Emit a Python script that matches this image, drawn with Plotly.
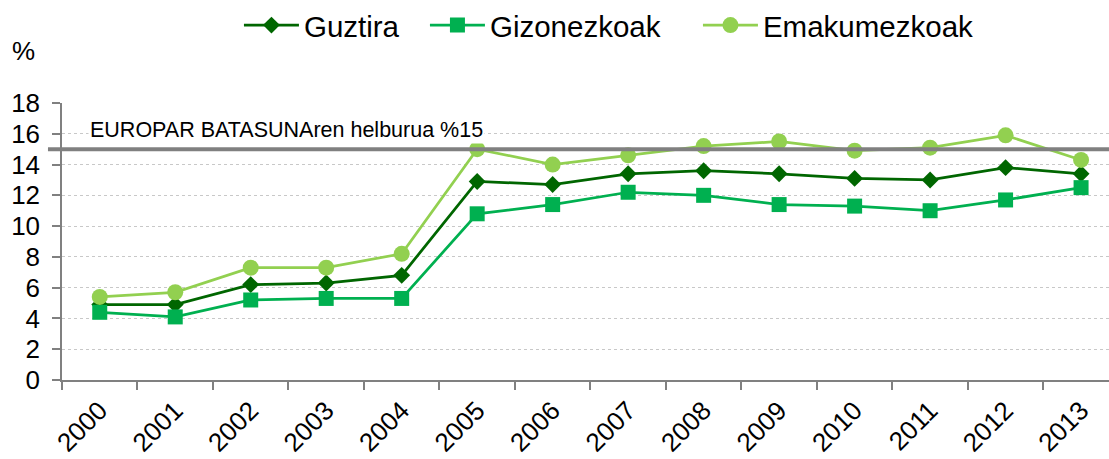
import plotly.graph_objects as go

years = ["2000", "2001", "2002", "2003", "2004", "2005", "2006",
         "2007", "2008", "2009", "2010", "2011", "2012", "2013"]
guztira = [4.9, 4.9, 6.2, 6.3, 6.8, 12.9, 12.7, 13.4, 13.6, 13.4, 13.1, 13.0, 13.8, 13.4]
gizonezkoak = [4.4, 4.1, 5.2, 5.3, 5.3, 10.8, 11.4, 12.2, 12.0, 11.4, 11.3, 11.0, 11.7, 12.5]
emakumezkoak = [5.4, 5.7, 7.3, 7.3, 8.2, 15.0, 14.0, 14.6, 15.2, 15.5, 14.9, 15.1, 15.9, 14.3]
target = 15
target_label = "EUROPAR BATASUNAren helburua %15"

FONT = "Liberation Sans, Arial, sans-serif"

fig = go.Figure()
fig.add_trace(go.Scatter(x=years, y=guztira, name="Guztira", mode="lines+markers",
                         legendwidth=116,
                         line=dict(color="#006600", width=2.75),
                         marker=dict(symbol="diamond", size=13, color="#006600")))
fig.add_trace(go.Scatter(x=years, y=gizonezkoak, name="Gizonezkoak", mode="lines+markers",
                         legendwidth=203,
                         line=dict(color="#00B050", width=2.75),
                         marker=dict(symbol="square", size=15, color="#00B050")))
fig.add_trace(go.Scatter(x=years, y=emakumezkoak, name="Emakumezkoak", mode="lines+markers",
                         legendwidth=210,
                         line=dict(color="#92D050", width=2.75),
                         marker=dict(symbol="circle", size=16, color="#92D050")))

fig.add_shape(type="line", xref="paper", yref="y", x0=-0.0134, x1=1, y0=target, y1=target,
              line=dict(color="#808080", width=4), layer="above")

fig.add_annotation(text=target_label, xref="paper", yref="y", x=0.025, y=16.23,
                   xanchor="left", yanchor="middle", showarrow=False,
                   bgcolor="white", borderpad=1,
                   font=dict(size=21.5, color="black", family=FONT))
fig.add_annotation(text="%", xref="paper", yref="paper", x=-0.037, y=1.188,
                   xanchor="center", yanchor="middle", showarrow=False,
                   font=dict(size=26, color="black", family=FONT))

fig.update_layout(
    width=1109, height=459,
    margin=dict(l=62, r=0, t=103, b=79, autoexpand=False),
    paper_bgcolor="white", plot_bgcolor="white",
    font=dict(family=FONT, size=26, color="black"),
    showlegend=True,
    legend=dict(orientation="h", x=0.169, xanchor="left", y=1.28, yanchor="middle",
                font=dict(size=29.5, family=FONT), itemwidth=55, traceorder="normal",
                bgcolor="rgba(0,0,0,0)"),
    xaxis=dict(type="category", range=[-0.5, 13.37], tickson="boundaries",
               ticks="outside", ticklen=8, tickcolor="#808080", tickwidth=1.5,
               showline=True, linecolor="#808080", linewidth=2, automargin=False,
               ticklabelstandoff=3,
               tickangle=-45, tickfont=dict(size=26, family=FONT), showgrid=False),
    yaxis=dict(range=[0, 18], dtick=2, ticks="outside", ticklen=8, tickcolor="#808080",
               tickwidth=1.5, automargin=False, ticklabelstandoff=7,
               showline=True, linecolor="#808080", linewidth=1.5,
               showgrid=True, gridcolor="#C8C8C8", griddash="dot", gridwidth=1,
               zeroline=False, tickfont=dict(size=26, family=FONT)),
)

fig.write_html("out.html", config={"displayModeBar": False},
               post_script="document.body.style.margin='0';document.body.style.padding='0';")
